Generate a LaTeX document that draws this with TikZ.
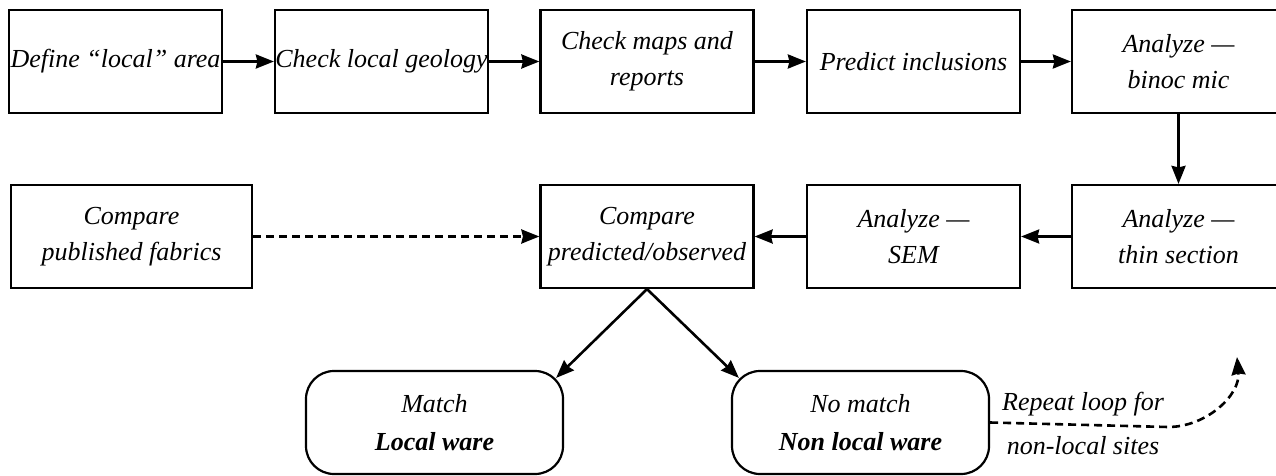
\documentclass[tikz,border=0pt]{standalone}
\usepackage{fontspec}
\setmainfont{Liberation Serif}
\usetikzlibrary{arrows.meta,calc}
\tikzset{
  x=1pt, y=1pt,
  box/.style={draw, line width=2.2pt, inner sep=0pt, align=center,
    font=\fontsize{26}{36}\selectfont\itshape},
  topbox/.style={box, minimum width=213pt, minimum height=103pt},
  rbox/.style={box, rounded corners=28pt, minimum width=257pt, minimum height=103pt},
  conn/.style={line width=2.6pt, -{Stealth[length=18pt,width=14pt,inset=1.5pt]}},
  dconn/.style={conn, dash pattern=on 8pt off 5pt},
  lbl/.style={font=\fontsize{26}{36}\selectfont\itshape, inner sep=0pt}
}
\begin{document}
\begin{tikzpicture}
\useasboundingbox (0,0) rectangle (1276,-476);
% top row
\node[topbox] (a) at (115.5,-61.5) {Define ``local'' area};
\node[topbox] (b) at (381.5,-61.5) {Check local geology};
\node[topbox] (c) at (647,-61.5) {Check maps and\\reports};
\node[topbox] (d) at (913.5,-61.5) {Predict inclusions};
\node[topbox] (e) at (1178.5,-61.5) {Analyze ---\\binoc mic};
% middle row
\node[box, minimum width=241pt, minimum height=103pt] (p) at (131.5,-236.5) {Compare\\published fabrics};
\node[topbox] (cmp) at (647,-236.5) {Compare\\predicted/observed};
\node[topbox] (sem) at (913.5,-236.5) {Analyze ---\\SEM};
\node[topbox] (thin) at (1178.5,-236.5) {Analyze ---\\thin section};
% bottom
\node[rbox] (match) at (434.5,-422.5) {Match\\[2pt]\textbf{Local ware}};
\node[rbox] (nomatch) at (860.5,-422.5) {No match\\[2pt]\textbf{Non local ware}};
% connectors
\draw[conn] (a.east) -- (b.west);
\draw[conn] (b.east) -- (c.west);
\draw[conn] (c.east) -- (d.west);
\draw[conn] (d.east) -- (e.west);
\draw[conn] (e.south) -- (thin.north);
\draw[conn] (thin.west) -- (sem.east);
\draw[conn] (sem.west) -- (cmp.east);
\draw[dconn] (p.east) -- (cmp.west);
\draw[conn] (cmp.south) -- ($(match.north east)+(-8,-8)$);
\draw[conn] (cmp.south) -- ($(nomatch.north west)+(8,-8)$);
\coordinate (loopend) at (1237,-357);
\coordinate (bend) at (1168,-427);
\draw[dconn] (nomatch.east) -- (bend) to[out=0, in=-85] (loopend);
\node[lbl] (l1) at (1083,-404) {Repeat loop for};
\node[lbl] (l2) at (1083,-446) {non-local sites};
\end{tikzpicture}
\end{document}
